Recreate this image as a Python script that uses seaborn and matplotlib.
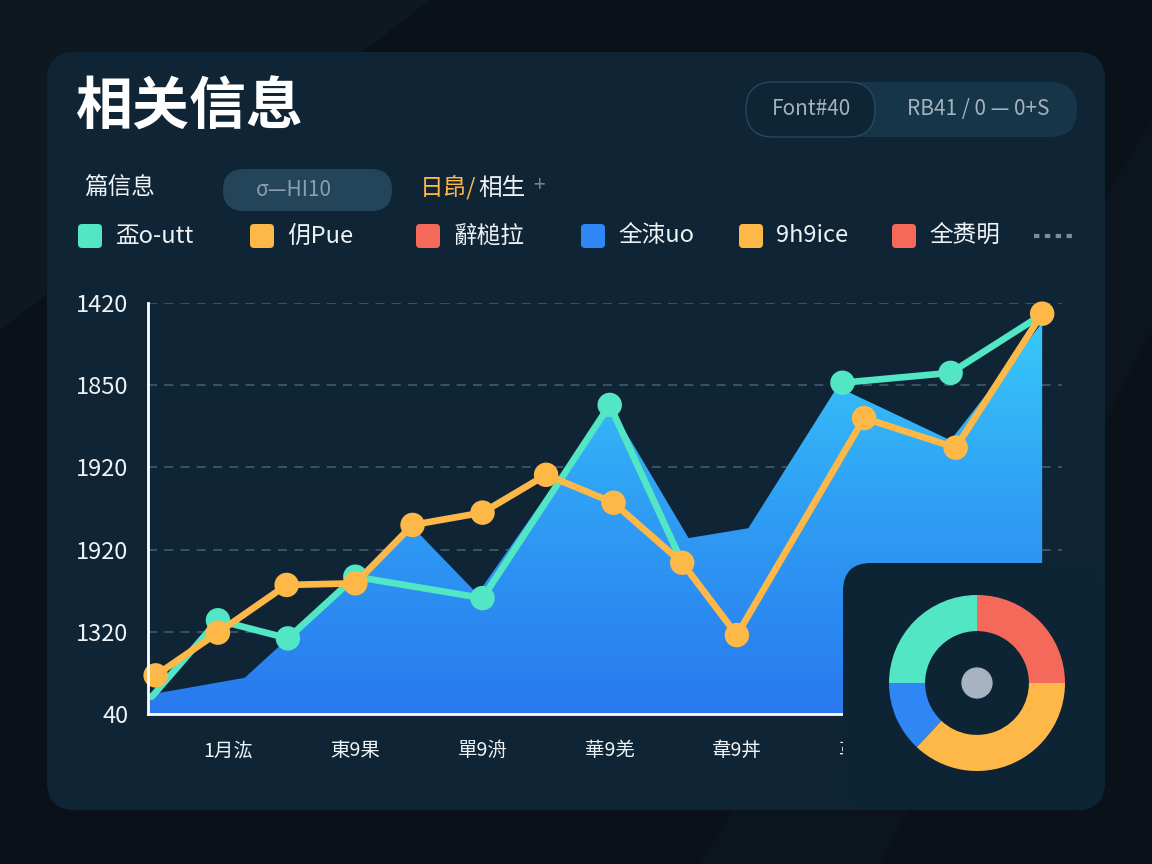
import numpy as np
import pandas as pd
import matplotlib.pyplot as plt
import seaborn as sns
from matplotlib.patches import FancyBboxPatch, Polygon, Circle
from matplotlib.lines import Line2D
from matplotlib.colors import LinearSegmentedColormap


# ---- data ----
y_tick_vals = [0, 100, 200, 300, 400, 500]
y_tick_labels = ["40", "1320", "1920", "1920", "1850", "1420"]
x_tick_vals = [1, 2, 3, 4, 5, 6]
x_tick_labels = ["1月汯", "東9果", "單9洀", "華9羌", "韋9丼", "革9丼"]

orange_x = [0.43, 0.92, 1.46, 2.0, 2.45, 3.0, 3.5, 4.03, 4.57, 5.0, 6.0, 6.72, 7.4]
orange_y = [47, 99, 157, 159, 230, 245, 291, 257, 184, 96, 360, 324, 487]

teal_x = [0.4, 0.92, 1.47, 2.0, 3.0, 4.0, 4.55, 5.83, 6.68, 7.41]
teal_y = [21, 114, 92, 167, 141, 376, 191, 403, 415, 487]
teal_seg = [0, 0, 0, 0, 0, 0, 0, 1, 1, 1]
teal_dot = [False, True, True, True, True, True, False, True, True, False]

area_x = [0.36, 1.13, 1.47, 2.0, 2.46, 2.96, 4.0, 4.62, 5.09, 5.79, 6.68, 7.4]
area_y = [23, 44, 92, 167, 226, 146, 376, 214, 226, 398, 333, 476]

legend_labels = ["盃o-utt", "仴Pue", "辭槌拉", "全洓uo", "9h9ice", "全赉明"]
donut_vals = [25, 25, 13, 37]

TEAL = "#52e6c5"
ORANGE = "#fdb847"
RED = "#f5695a"
BLUE = "#2f86f4"
legend_colors = [TEAL, ORANGE, RED, BLUE, ORANGE, RED]
donut_colors = [RED, TEAL, BLUE, ORANGE]

CARD = "#0f2536"
WHITE = "#eef3f6"
GREY = "#a3b2bc"

sns.set_theme(style="white")
plt.rcParams["font.family"] = ["Noto Sans CJK SC", "DejaVu Sans"]

W, H = 1152, 864
fig = plt.figure(figsize=(W / 100, H / 100), dpi=100, facecolor="#0a1118")


### helpers working in pixel coords (origin top-left)
def rbox(x0, y0, x1, y1, r, fc, ec="none", lw=0, z=-1):
    p = FancyBboxPatch((x0 / 100, (H - y1) / 100), (x1 - x0) / 100, (y1 - y0) / 100,
                       boxstyle=f"round,pad=0,rounding_size={r / 100}",
                       transform=fig.dpi_scale_trans, fc=fc, ec=ec, lw=lw, zorder=z)
    fig.add_artist(p)


def ftext(x, y, s, **kw):
    kw.setdefault("va", "center")
    fig.text(x / W, 1 - y / H, s, **kw)


# faint background shapes
for pts, c in [([(0, 0), (430, 0), (0, 330)], "#0e1821"),
               ([(1152, 120), (1152, 330), (880, 864), (700, 864)], "#0c151d")]:
    fig.add_artist(Polygon([(x / 100, (H - y) / 100) for x, y in pts], closed=True,
                           transform=fig.dpi_scale_trans, fc=c, ec="none", zorder=-3))

# card
rbox(47, 52, 1105, 810, 28, CARD, z=-2)

# header
ftext(76, 108, "相关信息", fontsize=41, fontweight="bold", color="white")
rbox(746, 82, 1077, 137, 27, "#163548", z=1)
rbox(746, 82, 875, 137, 27, "#0e2535", ec="#27485c", lw=1, z=1)
ftext(811, 109, "Font#40", fontsize=15, color=GREY, ha="center")
ftext(978, 109, "RB41 / 0 — 0+S", fontsize=15, color=GREY, ha="center")

ftext(84, 188, "篇信息", fontsize=17, color=WHITE, fontweight="medium")
rbox(223, 169, 392, 211, 21, "#24445a", z=1)
ftext(294, 190, "σ—HI10", fontsize=15, color="#8a9eab", ha="center")
ftext(420, 188, "日皍/", fontsize=17, color=ORANGE, fontweight="medium")
ftext(478, 188, "相生", fontsize=17, color=WHITE, fontweight="medium")
ftext(533, 186, "+", fontsize=15, color="#6f8594")

# legend row
leg_sq_x = [90, 262, 428, 593, 751, 904]
for cx, lab, col in zip(leg_sq_x, legend_labels, legend_colors):
    rbox(cx - 12, 224, cx + 12, 248, 4, col, z=1)
    ftext(cx + 25, 236, lab, fontsize=17, color=WHITE, fontweight="medium")
fig.add_artist(Line2D([1034 / 100, 1073 / 100], [(H - 236) / 100] * 2, transform=fig.dpi_scale_trans,
                      color="#7a8d99", lw=3, dashes=(1.3, 1.3), zorder=2))

# ---- main chart ----
ax = fig.add_axes([148 / W, 1 - 714 / H, (1062 - 148) / W, (714 - 303) / H], zorder=0)
ax.set_facecolor("none")

# gradient area
cmap = LinearSegmentedColormap.from_list("area", ["#2979ef", "#2f9ef4", "#39cdfa"])
grad = np.linspace(0, 1, 256).reshape(-1, 1)
im = ax.imshow(grad, extent=[area_x[0], area_x[-1], 0, 500], origin="lower",
               aspect="auto", cmap=cmap, zorder=1)
verts = list(zip(area_x, area_y)) + [(area_x[-1], 0), (area_x[0], 0)]
clip = Polygon(verts, closed=True, fc="none", ec="none", transform=ax.transData)
ax.add_patch(clip)
im.set_clip_path(clip)

tdf = pd.DataFrame({"x": teal_x, "y": teal_y, "seg": teal_seg, "dot": teal_dot})
odf = pd.DataFrame({"x": orange_x, "y": orange_y})

sns.lineplot(data=tdf, x="x", y="y", units="seg", estimator=None, sort=False,
             color=TEAL, lw=4.8, ax=ax, zorder=3)
sns.scatterplot(data=tdf[tdf["dot"]], x="x", y="y", color=TEAL, s=310,
                edgecolor="none", ax=ax, zorder=4)
sns.lineplot(data=odf, x="x", y="y", estimator=None, sort=False,
             color=ORANGE, lw=4.8, ax=ax, zorder=5)
sns.scatterplot(data=odf, x="x", y="y", color=ORANGE, s=310,
                edgecolor="none", ax=ax, zorder=6, clip_on=False)

ax.set_xlim(0.37, 7.556)
ax.set_ylim(0, 500)
ax.set_xlabel("")
ax.set_ylabel("")
ax.set_yticks(y_tick_vals, y_tick_labels)
ax.set_xticks(x_tick_vals, x_tick_labels)
ax.grid(axis="y", color="#3c5769", lw=1.3, ls=(0, (5, 4)), zorder=0)
ax.set_axisbelow(True)

for s in ["top", "right"]:
    ax.spines[s].set_visible(False)
for s in ["left", "bottom"]:
    ax.spines[s].set_color("white")
    ax.spines[s].set_linewidth(2)
    ax.spines[s].set_zorder(7)

ax.tick_params(axis="y", colors="white", labelsize=17, length=4, width=2,
               direction="inout", pad=12)
ax.tick_params(axis="x", colors="white", labelsize=14, length=7, width=1.5,
               direction="out", pad=12)
for t in ax.get_xticklabels() + ax.get_yticklabels():
    t.set_color(WHITE)
    t.set_fontweight("medium")

# inset panel with donut
rbox(843, 563, 1105, 810, 28, "#0d2435", z=1)

ax2 = fig.add_axes([889 / W, 1 - 771 / H, 176 / W, 176 / H], zorder=3)
ax2.pie(donut_vals, colors=donut_colors, startangle=0, counterclock=True,
        wedgeprops=dict(width=0.41, linewidth=0))
ax2.add_patch(Circle((0, 0), 0.17, color="#a7b3c1"))
ax2.set_xlim(-1, 1)
ax2.set_ylim(-1, 1)
ax2.set_aspect("equal")
ax2.axis("off")

fig.savefig("out.png", dpi=100, facecolor=fig.get_facecolor())
